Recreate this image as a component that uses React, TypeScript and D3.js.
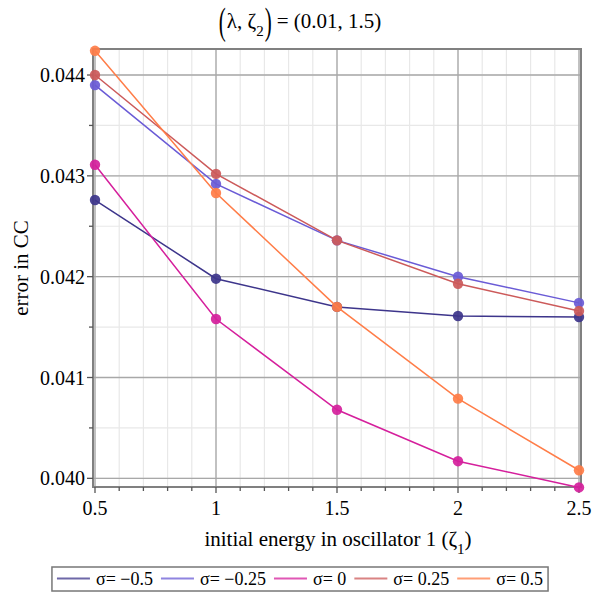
import { useEffect, useRef } from "react"
import * as d3 from "d3"

// initial energy in oscillator 1 (zeta_1)
const zeta1: number[] = [0.5, 1, 1.5, 2, 2.5]

const sigmaLabels: string[] = ["σ= −0.5", "σ= −0.25", "σ= 0", "σ= 0.25", "σ= 0.5"]

const sigmaM050: number[] = [0.04276, 0.04198, 0.0417, 0.04161, 0.0416]
const sigmaM025: number[] = [0.0439, 0.04292, 0.04236, 0.042, 0.04174]
const sigma000: number[] = [0.04311, 0.04158, 0.04068, 0.04017, 0.03991]
const sigmaP025: number[] = [0.044, 0.04302, 0.04236, 0.04193, 0.04166]
const sigmaP050: number[] = [0.04424, 0.04283, 0.0417, 0.04079, 0.04008]

const xTicks: number[] = [0.5, 1, 1.5, 2, 2.5]
const yTicks: number[] = [0.04, 0.041, 0.042, 0.043, 0.044]

const colors = ["#3d358b", "#6a5bd6", "#d51f9c", "#cc5a5a", "#ff7d48"]

export default function App() {
  const svgRef = useRef<SVGSVGElement | null>(null)

  useEffect(() => {
    if (!svgRef.current) return
    const width = 600
    const height = 600
    const margin = { top: 49, right: 19, bottom: 113, left: 93 }
    const font = "Liberation Serif, DejaVu Serif, serif"

    const svg = d3.select(svgRef.current).attr("width", width).attr("height", height)
    svg.selectAll("*").remove()

    const series = [sigmaM050, sigmaM025, sigma000, sigmaP025, sigmaP050]

    const x = d3
      .scaleLinear()
      .domain([0.5, 2.5])
      .range([margin.left + 2, width - margin.right - 2])

    const y = d3
      .scaleLinear()
      .domain([0.039914, 0.044258])
      .range([height - margin.bottom, margin.top])

    const left = margin.left
    const right = width - margin.right
    const top = margin.top
    const bottom = height - margin.bottom

    // minor grid
    const g = svg.append("g")
    const xMinor = d3.range(0.5, 2.5001, 0.1)
    const yMinor = d3.range(0.04, 0.04426, 0.0005)
    g.selectAll(".vmin")
      .data(xMinor)
      .join("line")
      .attr("x1", d => x(d)).attr("x2", d => x(d))
      .attr("y1", top).attr("y2", bottom)
      .attr("stroke", "#e8e8e8").attr("stroke-width", 1.2)
    g.selectAll(".hmin")
      .data(yMinor)
      .join("line")
      .attr("x1", left).attr("x2", right)
      .attr("y1", d => y(d)).attr("y2", d => y(d))
      .attr("stroke", "#e8e8e8").attr("stroke-width", 1.2)

    // major grid
    g.append("g").selectAll("line")
      .data(xTicks)
      .join("line")
      .attr("x1", d => x(d)).attr("x2", d => x(d))
      .attr("y1", top).attr("y2", bottom)
      .attr("stroke", "#a8a8a8").attr("stroke-width", 1.3)
    g.append("g").selectAll("line")
      .data(yTicks)
      .join("line")
      .attr("x1", left).attr("x2", right)
      .attr("y1", d => y(d)).attr("y2", d => y(d))
      .attr("stroke", "#a8a8a8").attr("stroke-width", 1.3)

    // frame
    svg.append("rect")
      .attr("x", left).attr("y", top)
      .attr("width", right - left).attr("height", bottom - top)
      .attr("fill", "none").attr("stroke", "#808080").attr("stroke-width", 2)

    // axis ticks
    const axisG = svg.append("g").attr("stroke", "#555")
    axisG.selectAll(".xt")
      .data(xMinor)
      .join("line")
      .attr("x1", d => x(d)).attr("x2", d => x(d))
      .attr("y1", bottom).attr("y2", (d, i) => bottom + (i % 5 === 0 ? 6 : 4))
      .attr("stroke-width", 1.3)
    axisG.selectAll(".yt")
      .data(yMinor)
      .join("line")
      .attr("x1", (d, i) => left - (i % 2 === 0 ? 6 : 4)).attr("x2", left)
      .attr("y1", d => y(d)).attr("y2", d => y(d))
      .attr("stroke-width", 1.3)

    svg.append("g").selectAll("text")
      .data(xTicks)
      .join("text")
      .attr("x", d => x(d)).attr("y", bottom + 28)
      .attr("text-anchor", "middle")
      .attr("font-family", font).attr("font-size", 20)
      .text(d => d3.format("")(d))

    svg.append("g").selectAll("text")
      .data(yTicks)
      .join("text")
      .attr("x", left - 8).attr("y", d => y(d) + 7)
      .attr("text-anchor", "end")
      .attr("font-family", font).attr("font-size", 20)
      .text(d => d3.format(".3f")(d))

    // series
    const line = d3
      .line<number>()
      .x((d, i) => x(zeta1[i]))
      .y(d => y(d))

    series.forEach((vals, si) => {
      svg.append("path")
        .datum(vals)
        .attr("fill", "none")
        .attr("stroke", colors[si])
        .attr("stroke-width", 1.5)
        .attr("d", line)
      svg.append("g").selectAll("circle")
        .data(vals)
        .join("circle")
        .attr("cx", (d, i) => x(zeta1[i]))
        .attr("cy", d => y(d))
        .attr("r", 5.2)
        .attr("fill", colors[si])
        .attr("fill-opacity", 0.92)
    })

    // title: (λ, ζ₂) = (0.01, 1.5) with tall thin parentheses
    const tg = svg.append("g").attr("font-family", font)
    const base = 28
    const pieces = [
      { s: "(", size: 21, dy: 6, sy: 1.85, gap: 1 },
      { s: "λ, ζ", size: 21, dy: 0, sy: 1, gap: 0 },
      { s: "2", size: 15, dy: 8, sy: 1, gap: 1 },
      { s: ")", size: 21, dy: 6, sy: 1.85, gap: 5 },
      { s: "= (0.01, 1.5)", size: 21, dy: 0, sy: 1, gap: 0 },
    ]
    const els = pieces.map(p => {
      const t = tg.append("text").attr("font-size", p.size).text(p.s)
      return { p, t, w: (t.node() as SVGTextElement).getComputedTextLength() }
    })
    const titleW = d3.sum(els, e => e.w + e.p.gap)
    let tx = 300 - titleW / 2
    els.forEach(e => {
      e.t.attr("transform", `translate(${tx}, ${base + e.p.dy}) scale(1, ${e.p.sy})`)
      tx += e.w + e.p.gap
    })

    // axis labels
    const xl = svg.append("text")
      .attr("x", 338).attr("y", bottom + 59)
      .attr("text-anchor", "middle")
      .attr("font-family", font).attr("font-size", 21)
    xl.append("tspan").text("initial energy in oscillator 1 (ζ")
    xl.append("tspan").attr("font-size", 15).attr("dy", 8).text("1")
    xl.append("tspan").attr("dy", -8).text(")")

    svg.append("text")
      .attr("transform", `translate(28, ${(top + bottom) / 2}) rotate(-90)`)
      .attr("text-anchor", "middle")
      .attr("font-family", font).attr("font-size", 21)
      .text("error in CC")

    // legend
    const leg = svg.append("g")
    const items = sigmaLabels.map((lab, i) => {
      const t = leg.append("text")
        .attr("font-family", font).attr("font-size", 18)
        .attr("y", 585)
        .text(lab)
      return { t, w: (t.node() as SVGTextElement).getComputedTextLength(), i }
    })
    const lineLen = 33
    const gapLT = 6
    const gapItem = 8
    const pad = 5
    const totalW = items.reduce((s, it) => s + lineLen + gapLT + it.w, 0) + gapItem * (items.length - 1) + pad * 2
    let cx = 300 - totalW / 2
    leg.insert("rect", ":first-child")
      .attr("x", cx).attr("y", 567)
      .attr("width", totalW).attr("height", 24)
      .attr("fill", "white").attr("stroke", "#777").attr("stroke-width", 1.5)
    cx += pad
    items.forEach(it => {
      leg.append("line")
        .attr("x1", cx).attr("x2", cx + lineLen)
        .attr("y1", 578.5).attr("y2", 578.5)
        .attr("stroke", colors[it.i]).attr("stroke-width", 2).attr("stroke-opacity", 0.75)
      it.t.attr("x", cx + lineLen + gapLT)
      cx += lineLen + gapLT + it.w + gapItem
    })
  }, [])

  return (
    <div>
      <svg ref={svgRef} style={{ position: "absolute", left: 0, top: 0 }} />
    </div>
  )
}
